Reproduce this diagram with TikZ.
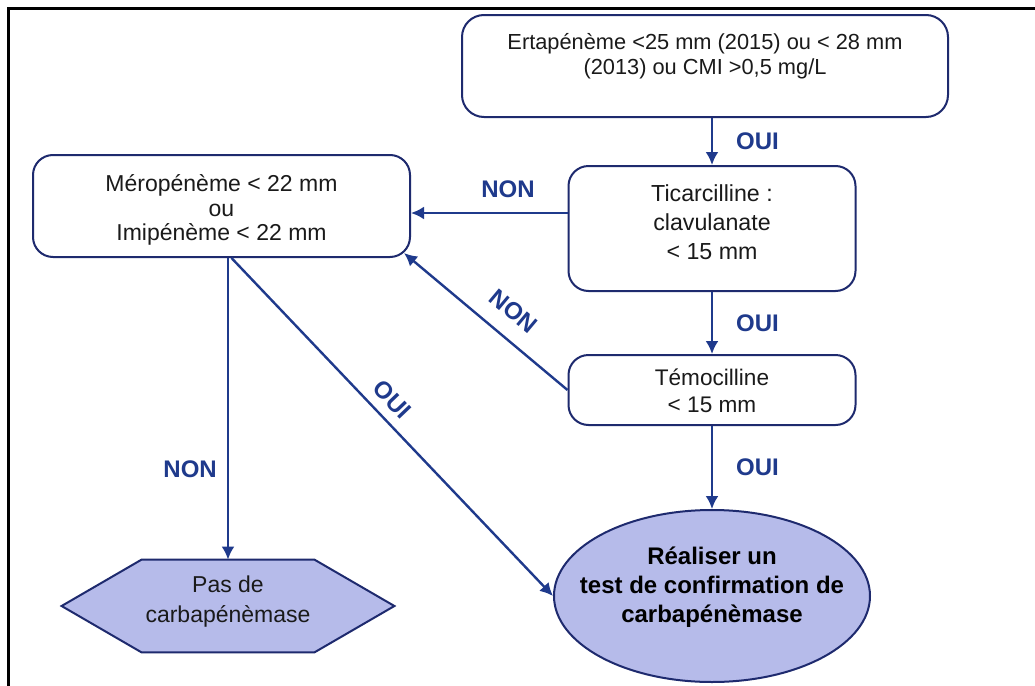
\documentclass[tikz,border=0pt]{standalone}
\usepackage{fontspec}
\setmainfont{Liberation Sans}
\usetikzlibrary{arrows.meta,calc,shapes.geometric}
\definecolor{navy}{HTML}{1E2A6E}
\definecolor{arrowblue}{HTML}{1F3A8C}
\definecolor{lav}{HTML}{B6BBEA}
\definecolor{txt}{HTML}{1A1A1A}
\begin{document}
\begin{tikzpicture}[x=0.5pt,y=-0.5pt,
  box/.style={draw=navy,line width=1pt,rounded corners=10pt,fill=white,inner sep=0pt},
  boxtext/.style={align=center,text=txt,inner sep=0pt},
  arr/.style={draw=arrowblue,line width=1.2pt,-{Latex[length=6.5pt,width=6.5pt]}},
  lab/.style={text=arrowblue,font=\bfseries\fontsize{12}{14}\selectfont,inner sep=0pt},
  fillshape/.style={draw=navy,line width=1pt,fill=lav}
]
\useasboundingbox (0,0) rectangle (1035,686);
\fill[white] (0,0) rectangle (1035,686);
\draw[line width=1.5pt,black] (8,700) -- (8,8) -- (1050,8);

% boxes
\node[box,minimum width=243pt,minimum height=51pt,rounded corners=11pt] (erta) at (705,66) {};
\node[boxtext,font=\fontsize{10.9}{12.5}\selectfont] (ertat) at (705,56)
  {Ertapénème <25 mm (2015) ou < 28 mm\\(2013) ou CMI >0,5 mg/L};
\node[box,minimum width=143.5pt,minimum height=62.5pt] (tic) at (712,228.5) {};
\node[boxtext,font=\fontsize{11.6}{14.5}\selectfont] (tict) at (712,222)
  {Ticarcilline :\\clavulanate\\< 15 mm};
\node[box,minimum width=143.5pt,minimum height=35pt] (temo) at (712,390) {};
\node[boxtext,font=\fontsize{11.3}{13.5}\selectfont] (temot) at (712,391)
  {Témocilline\\< 15 mm};
\node[box,minimum width=188.5pt,minimum height=51pt] (mero) at (221.5,206) {};
\node[boxtext,font=\fontsize{11.5}{12.3}\selectfont] (merot) at (221.5,210)
  {Méropénème < 22 mm\\ou\\Imipénème < 22 mm};

% ellipse
\node[fillshape,ellipse,minimum width=158pt,minimum height=86pt,inner sep=0pt] (ell) at (712,596) {};
\node[boxtext,text=black,font=\bfseries\fontsize{12}{14.5}\selectfont] (elltext) at (712,587)
  {Réaliser un\\test de confirmation de\\carbapénèmase};

% hexagon
\node[minimum width=166pt,minimum height=46pt,inner sep=0pt] (hex) at (228,606) {};
\draw[fillshape] (hex.west) -- ($(hex.north west)+(80,0)$) -- ($(hex.north east)+(-80,0)$)
  -- (hex.east) -- ($(hex.south east)+(-80,0)$) -- ($(hex.south west)+(80,0)$) -- cycle;
\node[boxtext,font=\fontsize{11.5}{15}\selectfont] (hextext) at (228,602)
  {Pas de\\carbapénèmase};

% connectors
\draw[arr] (erta.south -| tic.north) -- node[lab,right=11.5pt]{OUI} (tic.north);
\draw[arr] (tic.south) -- node[lab,right=11.5pt]{OUI} (temo.north);
\draw[arr] (temo.south) -- node[lab,right=11.5pt]{OUI} (ell.north);
\draw[arr] (tic.west |- 0,213) -- node[lab,pos=0.38,above=7pt]{NON} (mero.east |- 0,213);
\draw[arr] (temo.west) -- node[lab,pos=0.43,rotate=-40,anchor=south,inner sep=8pt]{NON}
  ($(mero.south east)+(-7,-5)$);
\draw[arr] (hex.north |- mero.south) -- node[lab,pos=0.70,left=5pt]{NON} (hex.north);
\draw[arr] ($(mero.south)+(10,0)$) -- node[lab,pos=0.457,rotate=-46.4,anchor=south,inner sep=4.5pt]{OUI} (ell.west);
\end{tikzpicture}
\end{document}
